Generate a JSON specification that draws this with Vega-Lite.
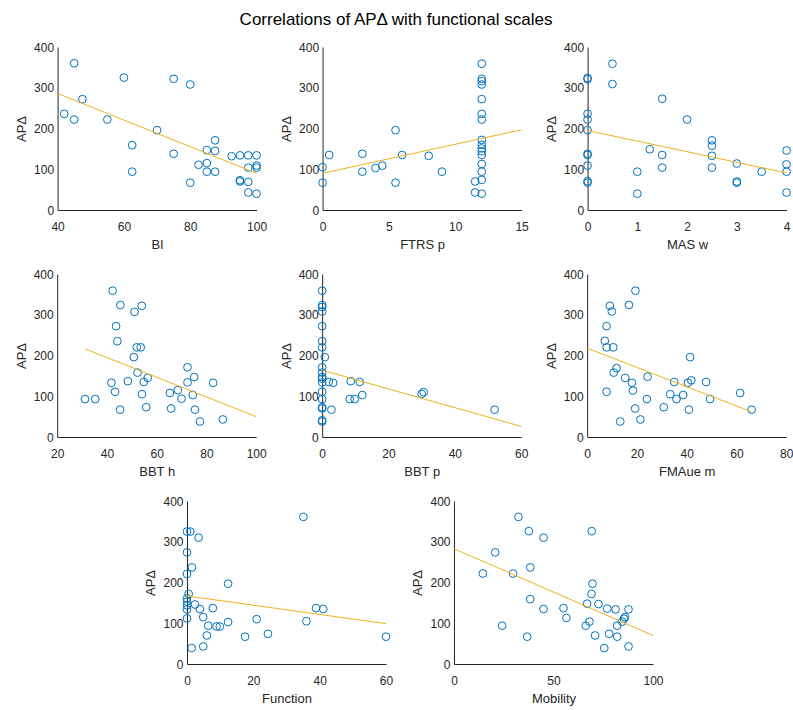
{
"$schema":"https://vega.github.io/schema/vega-lite/v6.json",
"background":"white",
"padding":{"left":15,"top":11,"right":5,"bottom":5},
"title":{"text":"Correlations of APΔ with functional scales","fontSize":17,"font":"Liberation Sans","fontWeight":"normal","color":"#000000","anchor":"middle","offset":12,"dx":-8},
"datasets":{
"bi":[{"x":45,"y":360},{"x":60,"y":325},{"x":75,"y":322},{"x":80,"y":308},{"x":47.5,"y":272},{"x":42,"y":236},{"x":45,"y":222},{"x":55,"y":222},{"x":70,"y":196},{"x":62.5,"y":159},{"x":75,"y":138},{"x":62.5,"y":94},{"x":80,"y":67},{"x":82.5,"y":111},{"x":85,"y":147},{"x":85,"y":115},{"x":85,"y":94},{"x":87.5,"y":171},{"x":87.5,"y":145},{"x":87.5,"y":94},{"x":92.5,"y":132},{"x":95,"y":134},{"x":97.5,"y":134},{"x":100,"y":134},{"x":95,"y":73},{"x":95,"y":70},{"x":97.5,"y":104},{"x":97.5,"y":69},{"x":97.5,"y":43},{"x":100,"y":109},{"x":100,"y":104},{"x":100,"y":40}],
"bi_fit":[{"x":40,"y":286},{"x":100,"y":90}],
"ftrs":[{"x":0,"y":105},{"x":0,"y":67},{"x":0.5,"y":135},{"x":3,"y":138},{"x":3,"y":94},{"x":4,"y":103},{"x":4.5,"y":109},{"x":5.5,"y":196},{"x":5.5,"y":67},{"x":6,"y":135},{"x":8,"y":133},{"x":9,"y":94},{"x":11.5,"y":70},{"x":11.5,"y":43},{"x":12,"y":359},{"x":12,"y":322},{"x":12,"y":316},{"x":12,"y":308},{"x":12,"y":272},{"x":12,"y":236},{"x":12,"y":222},{"x":12,"y":172},{"x":12,"y":160},{"x":12,"y":151},{"x":12,"y":144},{"x":12,"y":135},{"x":12,"y":113},{"x":12,"y":94},{"x":12,"y":74},{"x":12,"y":40}],
"ftrs_fit":[{"x":0,"y":90},{"x":15,"y":197}],
"mas":[{"x":0,"y":324},{"x":0,"y":321},{"x":0,"y":236},{"x":0,"y":222},{"x":0,"y":196},{"x":0,"y":138},{"x":0,"y":135},{"x":0,"y":109},{"x":0,"y":71},{"x":0,"y":67},{"x":0.5,"y":359},{"x":0.5,"y":309},{"x":1,"y":94},{"x":1,"y":40},{"x":1.25,"y":149},{"x":1.5,"y":273},{"x":1.5,"y":135},{"x":1.5,"y":104},{"x":2,"y":222},{"x":2.5,"y":171},{"x":2.5,"y":158},{"x":2.5,"y":133},{"x":2.5,"y":104},{"x":3,"y":114},{"x":3,"y":70},{"x":3,"y":67},{"x":3.5,"y":94},{"x":4,"y":146},{"x":4,"y":112},{"x":4,"y":94},{"x":4,"y":43}],
"mas_fit":[{"x":0,"y":195},{"x":4,"y":91}],
"bbth":[{"x":42.3,"y":359},{"x":45.4,"y":324},{"x":54,"y":322},{"x":51.1,"y":307},{"x":43.7,"y":272},{"x":44.2,"y":235},{"x":52,"y":220},{"x":53.6,"y":220},{"x":50.8,"y":196},{"x":52.3,"y":158},{"x":31.2,"y":93},{"x":35.3,"y":93},{"x":41.8,"y":133},{"x":43.3,"y":111},{"x":48.4,"y":137},{"x":45.3,"y":67},{"x":54.8,"y":135},{"x":56.4,"y":145},{"x":54.1,"y":105},{"x":55.8,"y":73},{"x":65.3,"y":108},{"x":68.5,"y":115},{"x":65.8,"y":70},{"x":70,"y":94},{"x":72.4,"y":171},{"x":72.4,"y":134},{"x":75.1,"y":147},{"x":74.5,"y":103},{"x":75.4,"y":67},{"x":77.4,"y":38},{"x":82.7,"y":133},{"x":86.6,"y":43}],
"bbth_fit":[{"x":31.3,"y":216},{"x":100,"y":50}],
"bbtp":[{"x":0,"y":359},{"x":0,"y":324},{"x":0,"y":319},{"x":0,"y":308},{"x":0,"y":272},{"x":0,"y":235},{"x":0,"y":220},{"x":0,"y":171},{"x":0,"y":158},{"x":0,"y":147},{"x":0,"y":143},{"x":0,"y":134},{"x":0,"y":111},{"x":0,"y":93},{"x":0,"y":73},{"x":0,"y":70},{"x":0,"y":41},{"x":0,"y":38},{"x":0.8,"y":196},{"x":2,"y":135},{"x":3.3,"y":133},{"x":2.8,"y":67},{"x":8.6,"y":137},{"x":8.3,"y":93},{"x":9.8,"y":93},{"x":11.3,"y":135},{"x":12.1,"y":103},{"x":30,"y":106},{"x":30.6,"y":110},{"x":52,"y":67}],
"bbtp_fit":[{"x":0,"y":164},{"x":60,"y":26}],
"fma":[{"x":19.4,"y":359},{"x":16.8,"y":324},{"x":9.1,"y":322},{"x":9.9,"y":308},{"x":7.8,"y":272},{"x":7.1,"y":236},{"x":7.8,"y":220},{"x":10.5,"y":220},{"x":41.4,"y":196},{"x":11.8,"y":169},{"x":10.7,"y":158},{"x":15.3,"y":145},{"x":18,"y":133},{"x":24.3,"y":148},{"x":18.4,"y":114},{"x":7.8,"y":111},{"x":35,"y":135},{"x":40.5,"y":133},{"x":41.9,"y":139},{"x":47.8,"y":135},{"x":24,"y":93},{"x":33.4,"y":105},{"x":35.9,"y":93},{"x":38.6,"y":103},{"x":49.4,"y":93},{"x":19.3,"y":70},{"x":30.8,"y":73},{"x":40.9,"y":67},{"x":21.4,"y":43},{"x":13.3,"y":38},{"x":61.5,"y":108},{"x":66.1,"y":67}],
"fma_fit":[{"x":0,"y":218},{"x":66,"y":62}],
"func":[{"x":35.1,"y":361},{"x":0,"y":325},{"x":1,"y":325},{"x":3.5,"y":310},{"x":0,"y":274},{"x":1.5,"y":237},{"x":0,"y":221},{"x":12.4,"y":197},{"x":0.5,"y":172},{"x":0,"y":161},{"x":0,"y":153},{"x":0,"y":144},{"x":2.4,"y":146},{"x":3.9,"y":135},{"x":7.8,"y":137},{"x":0,"y":134},{"x":0,"y":112},{"x":4.9,"y":115},{"x":6.4,"y":94},{"x":8.9,"y":92},{"x":9.9,"y":92},{"x":12.4,"y":103},{"x":21,"y":110},{"x":6,"y":70},{"x":17.5,"y":67},{"x":24.4,"y":74},{"x":1.4,"y":39},{"x":4.9,"y":43},{"x":36,"y":105},{"x":38.9,"y":137},{"x":41.1,"y":135},{"x":60,"y":67}],
"func_fit":[{"x":0,"y":167},{"x":60,"y":99}],
"mob":[{"x":32.4,"y":361},{"x":37.6,"y":326},{"x":69.2,"y":326},{"x":45,"y":310},{"x":20.7,"y":274},{"x":38.3,"y":237},{"x":14.5,"y":222},{"x":29.7,"y":222},{"x":69.6,"y":197},{"x":69.1,"y":172},{"x":38.3,"y":159},{"x":66.9,"y":148},{"x":72.6,"y":147},{"x":77,"y":136},{"x":81.2,"y":134},{"x":87.7,"y":134},{"x":55,"y":137},{"x":45,"y":135},{"x":56.5,"y":113},{"x":85.9,"y":115},{"x":85.4,"y":111},{"x":68.1,"y":104},{"x":84.5,"y":104},{"x":66.2,"y":94},{"x":82,"y":94},{"x":24.2,"y":94},{"x":70.9,"y":70},{"x":78,"y":74},{"x":82,"y":67},{"x":36.8,"y":67},{"x":75.5,"y":39},{"x":87.7,"y":43}],
"mob_fit":[{"x":0,"y":283},{"x":100,"y":70}]
},
"center":true,
"spacing":17,
"vconcat":[
{"hconcat":[
{"width":199,"height":163,"layer":[
{"data":{"name":"bi"},"mark":{"type":"point","shape":"circle","filled":false,"color":"#0072BD","size":60,"strokeWidth":1,"opacity":1},
"encoding":{"x":{"field":"x","type":"quantitative","scale":{"domain":[40,100],"nice":false,"zero":false},"axis":{"title":"BI","values":[40,60,80,100]}},
"y":{"field":"y","type":"quantitative","scale":{"domain":[0,400],"nice":false},"axis":{"title":"APΔ","values":[0,100,200,300,400]}}}},
{"data":{"name":"bi_fit"},"mark":{"type":"line","color":"#EDB120","strokeWidth":1},"encoding":{"x":{"field":"x","type":"quantitative"},"y":{"field":"y","type":"quantitative"}}}]},
{"width":199,"height":163,"layer":[
{"data":{"name":"ftrs"},"mark":{"type":"point","shape":"circle","filled":false,"color":"#0072BD","size":60,"strokeWidth":1,"opacity":1},
"encoding":{"x":{"field":"x","type":"quantitative","scale":{"domain":[0,15],"nice":false,"zero":false},"axis":{"title":"FTRS p","values":[0,5,10,15]}},
"y":{"field":"y","type":"quantitative","scale":{"domain":[0,400],"nice":false},"axis":{"title":"APΔ","values":[0,100,200,300,400]}}}},
{"data":{"name":"ftrs_fit"},"mark":{"type":"line","color":"#EDB120","strokeWidth":1},"encoding":{"x":{"field":"x","type":"quantitative"},"y":{"field":"y","type":"quantitative"}}}]},
{"width":199,"height":163,"layer":[
{"data":{"name":"mas"},"mark":{"type":"point","shape":"circle","filled":false,"color":"#0072BD","size":60,"strokeWidth":1,"opacity":1},
"encoding":{"x":{"field":"x","type":"quantitative","scale":{"domain":[0,4],"nice":false,"zero":false},"axis":{"title":"MAS w","values":[0,1,2,3,4]}},
"y":{"field":"y","type":"quantitative","scale":{"domain":[0,400],"nice":false},"axis":{"title":"APΔ","values":[0,100,200,300,400]}}}},
{"data":{"name":"mas_fit"},"mark":{"type":"line","color":"#EDB120","strokeWidth":1},"encoding":{"x":{"field":"x","type":"quantitative"},"y":{"field":"y","type":"quantitative"}}}]}
],"spacing":66,"bounds":"flush"},
{"hconcat":[
{"width":199,"height":163,"layer":[
{"data":{"name":"bbth"},"mark":{"type":"point","shape":"circle","filled":false,"color":"#0072BD","size":60,"strokeWidth":1,"opacity":1},
"encoding":{"x":{"field":"x","type":"quantitative","scale":{"domain":[20,100],"nice":false,"zero":false},"axis":{"title":"BBT h","values":[20,40,60,80,100]}},
"y":{"field":"y","type":"quantitative","scale":{"domain":[0,400],"nice":false},"axis":{"title":"APΔ","values":[0,100,200,300,400]}}}},
{"data":{"name":"bbth_fit"},"mark":{"type":"line","color":"#EDB120","strokeWidth":1},"encoding":{"x":{"field":"x","type":"quantitative"},"y":{"field":"y","type":"quantitative"}}}]},
{"width":199,"height":163,"layer":[
{"data":{"name":"bbtp"},"mark":{"type":"point","shape":"circle","filled":false,"color":"#0072BD","size":60,"strokeWidth":1,"opacity":1},
"encoding":{"x":{"field":"x","type":"quantitative","scale":{"domain":[0,60],"nice":false,"zero":false},"axis":{"title":"BBT p","values":[0,20,40,60]}},
"y":{"field":"y","type":"quantitative","scale":{"domain":[0,400],"nice":false},"axis":{"title":"APΔ","values":[0,100,200,300,400]}}}},
{"data":{"name":"bbtp_fit"},"mark":{"type":"line","color":"#EDB120","strokeWidth":1},"encoding":{"x":{"field":"x","type":"quantitative"},"y":{"field":"y","type":"quantitative"}}}]},
{"width":199,"height":163,"layer":[
{"data":{"name":"fma"},"mark":{"type":"point","shape":"circle","filled":false,"color":"#0072BD","size":60,"strokeWidth":1,"opacity":1},
"encoding":{"x":{"field":"x","type":"quantitative","scale":{"domain":[0,80],"nice":false,"zero":false},"axis":{"title":"FMAue m","values":[0,20,40,60,80]}},
"y":{"field":"y","type":"quantitative","scale":{"domain":[0,400],"nice":false},"axis":{"title":"APΔ","values":[0,100,200,300,400]}}}},
{"data":{"name":"fma_fit"},"mark":{"type":"line","color":"#EDB120","strokeWidth":1},"encoding":{"x":{"field":"x","type":"quantitative"},"y":{"field":"y","type":"quantitative"}}}]}
],"spacing":66,"bounds":"flush"},
{"hconcat":[
{"width":199,"height":163,"layer":[
{"data":{"name":"func"},"mark":{"type":"point","shape":"circle","filled":false,"color":"#0072BD","size":60,"strokeWidth":1,"opacity":1},
"encoding":{"x":{"field":"x","type":"quantitative","scale":{"domain":[0,60],"nice":false,"zero":false},"axis":{"title":"Function","values":[0,20,40,60]}},
"y":{"field":"y","type":"quantitative","scale":{"domain":[0,400],"nice":false},"axis":{"title":"APΔ","values":[0,100,200,300,400]}}}},
{"data":{"name":"func_fit"},"mark":{"type":"line","color":"#EDB120","strokeWidth":1},"encoding":{"x":{"field":"x","type":"quantitative"},"y":{"field":"y","type":"quantitative"}}}]},
{"width":199,"height":163,"layer":[
{"data":{"name":"mob"},"mark":{"type":"point","shape":"circle","filled":false,"color":"#0072BD","size":60,"strokeWidth":1,"opacity":1},
"encoding":{"x":{"field":"x","type":"quantitative","scale":{"domain":[0,100],"nice":false,"zero":false},"axis":{"title":"Mobility","values":[0,50,100]}},
"y":{"field":"y","type":"quantitative","scale":{"domain":[0,400],"nice":false},"axis":{"title":"APΔ","values":[0,100,200,300,400]}}}},
{"data":{"name":"mob_fit"},"mark":{"type":"line","color":"#EDB120","strokeWidth":1},"encoding":{"x":{"field":"x","type":"quantitative"},"y":{"field":"y","type":"quantitative"}}}]}
],"spacing":68,"bounds":"flush"}
],
"config":{
"view":{"stroke":null},
"font":"Liberation Sans",
"axis":{"grid":false,"ticks":false,"tickSize":0,"domainColor":"#262626","domainWidth":1,"labelColor":"#262626","titleColor":"#262626","labelFont":"Liberation Sans","titleFont":"Liberation Sans","labelFontSize":12,"titleFontSize":13,"titleFontWeight":"normal","labelFlush":false,"labelOverlap":false,"labelBound":false},
"axisX":{"labelPadding":11,"titlePadding":6},
"axisY":{"labelPadding":4,"titlePadding":5}
}
}
